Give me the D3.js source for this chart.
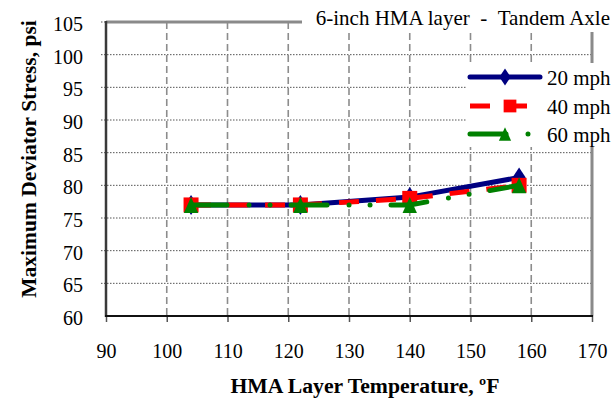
<!DOCTYPE html>
<html>
<head>
<meta charset="utf-8">
<script src="https://cdn.jsdelivr.net/npm/d3@7"></script>
<style>
  html, body { margin: 0; padding: 0; background: #fff; }
  svg { display: block; }
  svg text { font-family: "Liberation Serif", "Times New Roman", serif; fill: #000; }
</style>
</head>
<body>
<svg id="chart" width="613" height="398"></svg>
<script>
// HMA layer temperature (ºF) at which the stress was computed
const temperatures = [104, 122, 140, 158];
// Maximum deviator stress (psi) for each vehicle speed
const stress20mph = [77, 77, 78.2, 81.2];
const stress40mph = [77, 77, 78, 80];
const stress60mph = [77, 77, 77, 80];
const seriesNames = ["20 mph", "40 mph", "60 mph"];
const xTicks = [90, 100, 110, 120, 130, 140, 150, 160, 170];
const yTicks = [60, 65, 70, 75, 80, 85, 90, 95, 100, 105];
const chartTitle = "6-inch HMA layer\u00A0 - \u00A0Tandem Axle";

const svg = d3.select("#chart");
const W = 613, H = 398;
const plot = { left: 106, right: 592, top: 22, bottom: 316 };
const SERIF = "'Liberation Serif', 'Times New Roman', serif";

const x = d3.scaleLinear().domain([90, 170]).range([plot.left, plot.right]);
const y = d3.scaleLinear().domain([60, 105]).range([plot.bottom, plot.top]);

// marker shapes; "size" is the marker height in px
const diamond = { draw(ctx, s) { const h = s / 2, w = s * 0.33; ctx.moveTo(0, -h); ctx.lineTo(w, 0); ctx.lineTo(0, h); ctx.lineTo(-w, 0); ctx.closePath(); } };
const square = { draw(ctx, s) { const h = s / 2; ctx.rect(-h, -h, s, s); } };
const triangle = { draw(ctx, s) { const h = s / 2, w = s * 0.45; ctx.moveTo(0, -h); ctx.lineTo(w, h); ctx.lineTo(-w, h); ctx.closePath(); } };

// grid
const grid = svg.append("g");
grid.selectAll("line.h").data(yTicks.slice(1, -1)).join("line")
  .attr("x1", plot.left - 5).attr("x2", plot.right)
  .attr("y1", d => y(d)).attr("y2", d => y(d))
  .attr("stroke", "#555").attr("stroke-width", 1).attr("stroke-dasharray", "1.5,1.5");
grid.selectAll("line.v").data(xTicks.slice(1, -1)).join("line")
  .attr("x1", d => x(d)).attr("x2", d => x(d))
  .attr("y1", plot.top).attr("y2", plot.bottom)
  .attr("stroke", "#8c8c8c").attr("stroke-width", 1.6).attr("stroke-dasharray", "7,4");

// frame: top and right edges in gray
svg.append("line").attr("x1", plot.left).attr("x2", plot.right)
  .attr("y1", plot.top).attr("y2", plot.top)
  .attr("stroke", "#8a8a8a").attr("stroke-width", 3);
svg.append("line").attr("x1", plot.right).attr("x2", plot.right)
  .attr("y1", plot.top).attr("y2", plot.bottom)
  .attr("stroke", "#8a8a8a").attr("stroke-width", 3);
svg.append("line").attr("x1", plot.left - 5).attr("x2", plot.left)
  .attr("y1", plot.top).attr("y2", plot.top)
  .attr("stroke", "#555").attr("stroke-width", 1).attr("stroke-dasharray", "1.5,1.5");

// y axis
const yAxis = d3.axisLeft(y).tickValues(yTicks).tickSize(0).tickPadding(0);
const gy = svg.append("g").attr("transform", `translate(${plot.left},0)`).call(yAxis);
gy.attr("font-family", null).attr("font-size", null);
gy.select(".domain").remove();
gy.selectAll(".tick line").remove();
gy.selectAll("text")
  .attr("x", -23).attr("dy", 8.5)
  .style("font-size", "20px").style("font-family", SERIF);
svg.append("line").attr("x1", plot.left).attr("x2", plot.left)
  .attr("y1", plot.top - 1).attr("y2", plot.bottom + 1)
  .attr("stroke", "#3a3a3a").attr("stroke-width", 2.5);

// x axis
const xAxis = d3.axisBottom(x).tickValues(xTicks).tickSize(6).tickPadding(0);
const gx = svg.append("g").attr("transform", `translate(0,${plot.bottom})`).call(xAxis);
gx.attr("font-family", null).attr("font-size", null);
gx.select(".domain").remove();
gx.selectAll(".tick line").attr("stroke", "#555").attr("stroke-width", 1.5);
gx.selectAll("text")
  .attr("y", 42).attr("dy", 0)
  .style("font-size", "20px").style("font-family", SERIF);
svg.append("line").attr("x1", plot.left - 1).attr("x2", plot.right + 1)
  .attr("y1", plot.bottom).attr("y2", plot.bottom)
  .attr("stroke", "#111").attr("stroke-width", 2);

// axis titles
svg.append("text")
  .attr("x", 365).attr("y", 393)
  .attr("text-anchor", "middle")
  .style("font-size", "21.7px").style("font-weight", "bold").style("font-family", SERIF)
  .text("HMA Layer Temperature, ºF");
svg.append("text")
  .attr("transform", "translate(36,159) rotate(-90)")
  .attr("text-anchor", "middle")
  .style("font-size", "21.5px").style("font-weight", "bold").style("font-family", SERIF)
  .text("Maximum Deviator Stress, psi");

// series
const series = [
  { name: seriesNames[0], values: stress20mph, color: "#000080", dash: null, cap: "round", shape: diamond, size: 20 },
  { name: seriesNames[1], values: stress40mph, color: "#ff0000", dash: "20,17", cap: "butt", shape: square, size: 15 },
  { name: seriesNames[2], values: stress60mph, color: "#008000", dash: "36,22,0,21,0,21", cap: "round", shape: triangle, size: 16 }
];

const line = d3.line().x(d => x(d[0])).y(d => y(d[1]));

series.forEach(s => {
  const pts = temperatures.map((t, i) => [t, s.values[i]]);
  svg.append("path").datum(pts)
    .attr("d", line)
    .attr("fill", "none")
    .attr("stroke", s.color).attr("stroke-width", 5)
    .attr("stroke-linecap", s.cap).attr("stroke-linejoin", "round")
    .attr("stroke-dasharray", s.dash);
  svg.append("g").selectAll("path").data(pts).join("path")
    .attr("transform", d => `translate(${x(d[0])},${y(d[1])})`)
    .attr("d", d3.symbol().type(s.shape).size(s.size))
    .attr("fill", s.color);
});

// title box over the top edge
svg.append("rect").attr("x", 302).attr("y", 0).attr("width", W - 302).attr("height", 32).attr("fill", "#fff");
svg.append("text")
  .attr("x", 610).attr("y", 25)
  .attr("text-anchor", "end")
  .style("font-size", "21px").style("font-family", SERIF)
  .text(chartTitle);

// legend
const legend = svg.append("g");
legend.append("rect").attr("x", 466).attr("y", 63).attr("width", W - 466).attr("height", 84).attr("fill", "#fff");
const rowsY = [77, 106, 134];
series.forEach((s, i) => {
  const ly = rowsY[i];
  legend.append("line")
    .attr("x1", 470).attr("x2", 540).attr("y1", ly).attr("y2", ly)
    .attr("stroke", s.color).attr("stroke-width", 5)
    .attr("stroke-linecap", s.cap).attr("stroke-dasharray", s.dash);
  const mx = i === 1 ? 510 : 505;
  legend.append("path")
    .attr("transform", `translate(${mx},${ly})`)
    .attr("d", d3.symbol().type(s.shape).size(s.size * 0.85))
    .attr("fill", s.color);
  legend.append("text")
    .attr("x", 547).attr("y", ly + 8)
    .style("font-size", "21px").style("font-family", SERIF)
    .text(s.name);
});
</script>
</body>
</html>
